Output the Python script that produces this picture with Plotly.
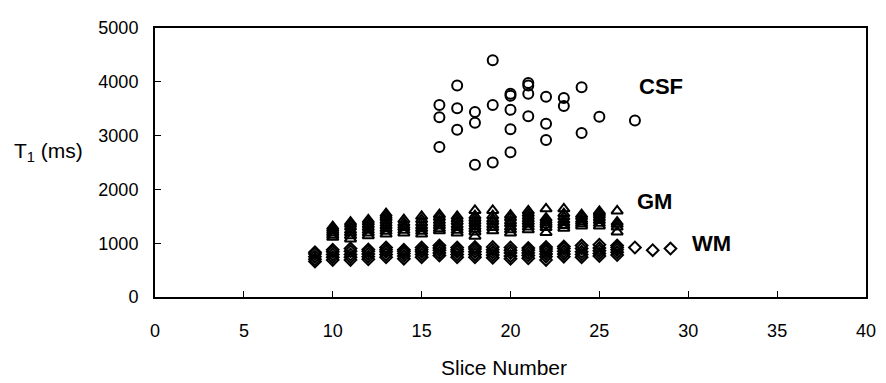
import plotly.graph_objects as go

# ---- data ----
csf_slice = [16, 16, 16, 17, 17, 17, 18, 18, 18, 19, 19, 19, 20, 20, 20, 20, 20,
             21, 21, 21, 21, 22, 22, 22, 23, 23, 24, 24, 25, 27]
csf_t1 = [3570, 3340, 2790, 3930, 3510, 3110, 3440, 3240, 2460, 4400, 3570, 2500,
          3780, 3740, 3480, 3120, 2690, 3980, 3930, 3780, 3360, 3720, 3220, 2920,
          3700, 3550, 3900, 3050, 3350, 3280]

gm_slices = [10, 11, 12, 13, 14, 15, 16, 17, 18, 19, 20, 21, 22, 23, 24, 25, 26]
gm_t1 = [
    [1110, 1150, 1190, 1230, 1270, 1310],
    [1080, 1140, 1190, 1240, 1300, 1350, 1390],
    [1140, 1190, 1240, 1290, 1340, 1390, 1435],
    [1170, 1220, 1270, 1320, 1370, 1420, 1470, 1510, 1550],
    [1190, 1240, 1290, 1330, 1380, 1440],
    [1170, 1220, 1270, 1320, 1380, 1440, 1500],
    [1230, 1270, 1320, 1370, 1420, 1480, 1530],
    [1190, 1240, 1290, 1340, 1400, 1450, 1500],
    [1130, 1210, 1260, 1310, 1360, 1410, 1460, 1510, 1610],
    [1230, 1290, 1340, 1400, 1450, 1510, 1610],
    [1190, 1250, 1300, 1360, 1410, 1470, 1520],
    [1250, 1300, 1350, 1400, 1450, 1500, 1550, 1600],
    [1200, 1290, 1340, 1380, 1420, 1465, 1640],
    [1280, 1330, 1380, 1430, 1490, 1550, 1640],
    [1320, 1360, 1400, 1440, 1490, 1530],
    [1320, 1370, 1420, 1470, 1520, 1560, 1590],
    [1210, 1300, 1350, 1390, 1600],
]

wm_slices = [9, 10, 11, 12, 13, 14, 15, 16, 17, 18, 19, 20, 21, 22, 23, 24, 25, 26, 27, 28, 29]
wm_t1 = [
    [660, 700, 750, 800, 830],
    [690, 740, 790, 840, 880],
    [690, 740, 790, 850, 900],
    [700, 750, 800, 850, 885],
    [740, 790, 840, 880, 920],
    [710, 760, 810, 850, 880],
    [740, 790, 840, 880, 920],
    [770, 820, 870, 910, 955],
    [740, 790, 840, 880, 920],
    [740, 790, 840, 890, 930],
    [730, 780, 830, 880, 930],
    [710, 760, 820, 870, 920],
    [720, 770, 820, 870, 910],
    [690, 750, 800, 850, 890, 930],
    [750, 800, 850, 900, 940],
    [740, 790, 840, 900, 955],
    [760, 810, 860, 910, 970],
    [780, 830, 880, 920, 955],
    [920],
    [870],
    [900],
]

x_ticks = [0, 5, 10, 15, 20, 25, 30, 35, 40]
y_ticks = [0, 1000, 2000, 3000, 4000, 5000]

labels = ["CSF", "GM", "WM"]
label_x = [27.1, 27.0, 30.1]
label_y = [3920, 1770, 990]


def flatten(slices, values):
    xs, ys = [], []
    for s, vals in zip(slices, values):
        for v in vals:
            xs.append(s)
            ys.append(v)
    return xs, ys


gm_x, gm_y = flatten(gm_slices, gm_t1)
wm_x, wm_y = flatten(wm_slices, wm_t1)

FONT = "Liberation Sans, Arial, sans-serif"

fig = go.Figure()
fig.add_trace(go.Scatter(
    x=wm_x, y=wm_y, mode="markers", name="WM",
    marker=dict(symbol="diamond-open", size=9, color="black",
                line=dict(width=2, color="black"))))
fig.add_trace(go.Scatter(
    x=gm_x, y=gm_y, mode="markers", name="GM",
    marker=dict(symbol="triangle-up-open", size=10, color="black",
                line=dict(width=2, color="black"))))
fig.add_trace(go.Scatter(
    x=csf_slice, y=csf_t1, mode="markers", name="CSF",
    marker=dict(symbol="circle-open", size=10, color="black",
                line=dict(width=2, color="black"))))

for t, lx, ly in zip(labels, label_x, label_y):
    fig.add_annotation(x=lx, y=ly, text="<b>%s</b>" % t, showarrow=False,
                       xanchor="left", yanchor="middle",
                       font=dict(family=FONT, size=22, color="black"))

fig.add_annotation(xref="paper", yref="paper", x=0.491, y=-0.262,
                   text="Slice Number", showarrow=False,
                   xanchor="center", yanchor="middle",
                   font=dict(family=FONT, size=21, color="black"))
fig.add_annotation(xref="paper", yref="paper", x=-0.2017, y=0.5376,
                   text="T<sub>1</sub> (ms)", showarrow=False,
                   xanchor="left", yanchor="middle",
                   font=dict(family=FONT, size=21, color="black"))

# the page body has an 8px margin, so the figure is sized to fit the window
fig.update_layout(
    width=878, height=375,
    margin=dict(l=147, r=12, t=10, b=86),
    paper_bgcolor="white", plot_bgcolor="white",
    showlegend=False,
    font=dict(family=FONT, size=18, color="black"),
    xaxis=dict(range=[0, 40], tickvals=x_ticks, ticktext=[str(v) for v in x_ticks],
               showgrid=False, zeroline=False, showline=True, linecolor="black",
               linewidth=2, mirror=True, ticks="inside", ticklen=6, tickwidth=1,
               tickcolor="black", ticklabelstandoff=16,
               tickfont=dict(family=FONT, size=18, color="black")),
    yaxis=dict(range=[0, 5000], tickvals=y_ticks, ticktext=[str(v) for v in y_ticks],
               showgrid=False, zeroline=False, showline=True, linecolor="black",
               linewidth=2, mirror=True, ticks="inside", ticklen=6, tickwidth=1,
               tickcolor="black", ticklabelstandoff=11,
               tickfont=dict(family=FONT, size=18, color="black")),
)

fig.write_html("out.html")
